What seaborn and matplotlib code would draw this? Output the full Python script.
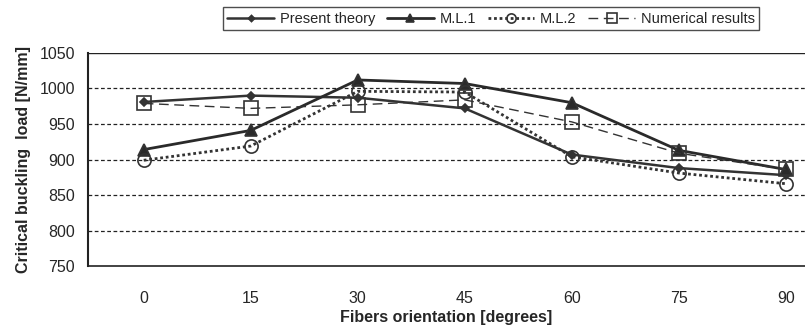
import numpy as np
import pandas as pd
import seaborn as sns
import matplotlib
matplotlib.use("Agg")
import matplotlib.pyplot as plt

angles = ["0", "15", "30", "45", "60", "75", "90"]
present = [981, 990, 987, 972, 907, 888, 878]
ml1 = [914, 941, 1012, 1007, 980, 913, 886]
ml2 = [899, 919, 996, 995, 904, 881, 866]
numerical = [979, 972, 977, 984, 953, 909, 886]

sns.set_style("white")
plt.rcParams['font.family'] = ['Liberation Sans', 'DejaVu Sans']

fig = plt.figure(figsize=(8.05, 3.31), dpi=100)
ax = fig.add_axes([0.109, 0.196, 0.891, 0.644])

pos = np.arange(len(angles))
series = [
    ("Present theory", present, dict(marker="D", markersize=4.5, linestyle="-", linewidth=1.8,
                                     color="#333333", markerfacecolor="#333333")),
    ("M.L.1", ml1, dict(marker="^", markersize=8, linestyle="-", linewidth=2.0,
                        color="#2a2a2a", markerfacecolor="#2a2a2a")),
    ("M.L.2", ml2, dict(marker="o", markersize=9.5, linestyle=(0, (1, 1)), linewidth=2.0,
                        color="#333333", markerfacecolor="none")),
    ("Numerical results", numerical, dict(marker="s", markersize=9.5, linestyle=(0, (7, 4)),
                                          linewidth=1.0, color="#333333", markerfacecolor="none")),
]
for name, vals, kw in series:
    df = pd.DataFrame({"x": pos, "y": vals})
    sns.lineplot(data=df, x="x", y="y", ax=ax, label=name, markeredgecolor="#333333",
                 markeredgewidth=1.2, **kw)

ax.set_xlim(-0.523, 6.18)
ax.set_ylim(750, 1050)
ax.set_yticks(range(750, 1051, 50))
ax.set_xticks(pos)
ax.set_xticklabels(angles)
ax.set_xticks(pos[:-1] + 0.5, minor=True)
ax.tick_params(axis="x", which="major", length=0, pad=18, labelsize=11.5)
ax.tick_params(axis="x", which="minor", length=4, direction="out", width=0.8)
ax.tick_params(axis="y", length=6, direction="inout", width=0.8, labelsize=11.5, pad=6)
for y in range(800, 1001, 50):
    ax.axhline(y, color="#222222", linestyle=(0, (3, 2)), linewidth=0.9, zorder=0)
ax.axhline(1050, color="#222222", linewidth=1.0, zorder=0)

ax.spines["right"].set_visible(False)
ax.spines["top"].set_visible(False)
ax.spines["left"].set_linewidth(1.5)
ax.spines["bottom"].set_linewidth(1.2)
for s in ["left", "bottom"]:
    ax.spines[s].set_color("#222222")

ax.set_xlabel("Fibers orientation [degrees]", fontsize=11.5, fontweight="bold", labelpad=3)
ax.set_ylabel("Critical buckling  load [N/mm]", fontsize=11.5, fontweight="bold", labelpad=6)

ax.legend_.remove()
h, l = ax.get_legend_handles_labels()
leg = fig.legend(h, l, loc="center", bbox_to_anchor=(0.610, 0.943), ncol=4, fontsize=10.5,
                 frameon=True, fancybox=False, edgecolor="#222222", handlelength=3.2,
                 columnspacing=0.8, handletextpad=0.4, borderpad=0.3, markerscale=0.7)
leg.get_frame().set_linewidth(1.0)

fig.savefig("out.png", dpi=100)
